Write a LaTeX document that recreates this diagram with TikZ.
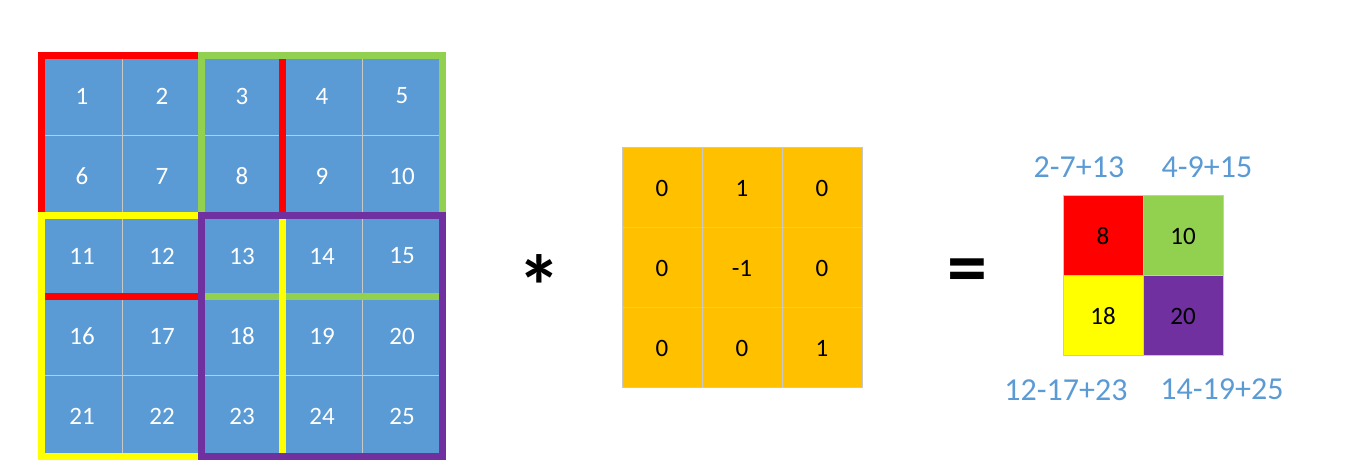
\documentclass[tikz,border=0pt]{standalone}
\usepackage{fontspec}
\setmainfont{Carlito}
\usetikzlibrary{positioning}
\definecolor{mblue}{RGB}{91,155,213}
\definecolor{morange}{RGB}{255,192,0}
\definecolor{mred}{RGB}{255,0,0}
\definecolor{mgreen}{RGB}{146,208,80}
\definecolor{myellow}{RGB}{255,255,0}
\definecolor{mpurple}{RGB}{112,48,160}
\definecolor{mgrid}{RGB}{200,200,200}
\tikzset{cell/.style = {draw=mgrid, line width=0.5pt, minimum size=40pt,
                        inner sep=0, font=\fontsize{12.5}{15}\selectfont}}
\tikzset{frame/.style = {draw=#1, line width=3.3pt}}
\tikzset{sum/.style = {text=mblue, inner sep=0, font=\fontsize{16}{19}\selectfont}}

\begin{document}
\begin{tikzpicture}[x=0.5pt, y=-0.5pt]
  \useasboundingbox (0,0) rectangle (1356,474);

  % input 5x5
  \foreach \r in {0,...,4}
    \foreach \c in {0,...,4} {
      \pgfmathtruncatemacro{\n}{5*\r+\c+1}
      \node [cell, fill=mblue, text=white] (c\n) at (82+80*\c, 96+80*\r) {\n};
    }
  \draw [frame=mred] (c1.north west) rectangle (c13.south east);
  \draw [frame=mgreen] (c3.north west) rectangle (c15.south east);
  \draw [frame=myellow] (c11.north west) rectangle (c23.south east);
  \draw [frame=mpurple] (c13.north west) rectangle (c25.south east);

  \node [font=\bfseries\fontsize{44}{44}\selectfont] (ast) at (539, 286) {*};

  % kernel 3x3
  \foreach \v [count=\i from 0] in {0,1,0,0,-1,0,0,0,1} {
    \pgfmathtruncatemacro{\r}{\i/3}
    \pgfmathtruncatemacro{\c}{\i-3*\r}
    \node [cell, fill=morange] (k\i) at (662+80*\c, 188+80*\r) {\v};
  }

  \node [font=\bfseries\fontsize{40}{40}\selectfont] (eq) at (967, 277) {=};

  % result 2x2
  \node [cell, fill=mred]    (r1) at (1103, 236) {8};
  \node [cell, fill=mgreen]  (r2) at (1183, 236) {10};
  \node [cell, fill=myellow] (r3) at (1103, 316) {18};
  \node [cell, fill=mpurple] (r4) at (1183, 316) {20};

  \node [sum] (s1) at (1079, 167) {2-7+13};
  \node [sum] (s2) at (1207, 167) {4-9+15};
  \node [sum] (s3) at (1066, 390) {12-17+23};
  \node [sum] (s4) at (1222, 389) {14-19+25};
\end{tikzpicture}
\end{document}
